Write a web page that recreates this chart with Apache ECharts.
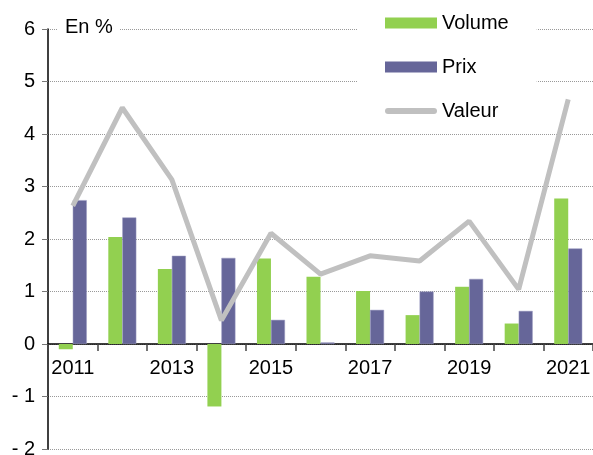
<!DOCTYPE html>
<html>
<head>
<meta charset="utf-8">
<script src="https://cdn.jsdelivr.net/npm/echarts@6/dist/echarts.min.js"></script>
<style>
  * { margin: 0; padding: 0; }
  #chart { width: 593px; height: 455px; }
</style>
</head>
<body>
<div id="chart"></div>
<script>
// données
const years = ['2011', '2012', '2013', '2014', '2015', '2016', '2017', '2018', '2019', '2020', '2021']
const volume = [-0.1, 2.04, 1.43, -1.19, 1.63, 1.28, 1.01, 0.55, 1.09, 0.39, 2.77]
const prix = [2.74, 2.41, 1.68, 1.64, 0.46, 0.03, 0.65, 1.0, 1.24, 0.63, 1.82]
const valeur = [2.63, 4.5, 3.13, 0.45, 2.11, 1.33, 1.68, 1.58, 2.34, 1.04, 4.66]

const font = 'Liberation Sans, Arial, sans-serif'
const yMin = -2, yMax = 6
const plotTop = 29, plotBottom = 6, chartH = 455

// l'axe des x est posé sur le zéro (étiquettes comprises)
const plotH = chartH - plotTop - plotBottom
const zeroOffset = -plotH * (0 - yMin) / (yMax - yMin)

const chart = echarts.init(document.getElementById('chart'))
chart.setOption({
  animation: false,
  textStyle: { fontFamily: font },
  title: {
    text: 'En %',
    left: 58,
    top: 15,
    padding: [2, 7],
    backgroundColor: '#fff',
    textStyle: { fontFamily: font, fontSize: 20, fontWeight: 'normal', color: '#000' }
  },
  legend: {
    orient: 'vertical',
    left: 358,
    top: 0,
    padding: [13, 28, 12, 27],
    backgroundColor: '#fff',
    itemWidth: 52,
    itemHeight: 11,
    itemGap: 24,
    textStyle: { fontFamily: font, fontSize: 20, color: '#000' },
    data: [
      { name: 'Volume', icon: 'rect' },
      { name: 'Prix', icon: 'rect', itemStyle: { borderWidth: 0 } },
      { name: 'Valeur', icon: 'path://M3,0 L49,0 A3,3 0 0 1 49,6 L3,6 A3,3 0 0 1 3,0 Z' }
    ]
  },
  grid: { left: 48, right: 0, top: plotTop, bottom: plotBottom, outerBoundsMode: 'none' },
  xAxis: {
    type: 'category',
    data: years,
    offset: zeroOffset,
    axisLine: { onZero: false, lineStyle: { color: '#000', width: 1.5 } },
    axisTick: { show: true, interval: 0, length: 7, lineStyle: { color: '#444', width: 1.5 } },
    axisLabel: { interval: 1, fontSize: 20, color: '#000', margin: 14 }
  },
  yAxis: {
    type: 'value',
    min: yMin,
    max: yMax,
    interval: 1,
    axisLine: { show: true, lineStyle: { color: '#000', width: 1.5 } },
    axisTick: { show: true, length: 6, lineStyle: { color: '#777' } },
    axisLabel: {
      fontSize: 20,
      color: '#000',
      margin: 13,
      formatter: v => v < 0 ? '- ' + Math.abs(v) : String(v)
    },
    splitLine: { lineStyle: { type: 'dotted', color: '#999', width: 1 } }
  },
  series: [
    {
      name: 'Volume',
      type: 'bar',
      data: volume,
      barWidth: 14,
      barGap: '0%',
      itemStyle: { color: '#92D050' }
    },
    {
      name: 'Prix',
      type: 'bar',
      data: prix,
      barWidth: 14,
      itemStyle: { color: '#666699', borderColor: '#9a9ac0', borderWidth: 0.5 }
    },
    {
      name: 'Valeur',
      type: 'line',
      data: valeur,
      symbol: 'none',
      lineStyle: { color: '#C0C0C0', width: 5 },
      itemStyle: { color: '#C0C0C0' }
    }
  ]
})
</script>
</body>
</html>
